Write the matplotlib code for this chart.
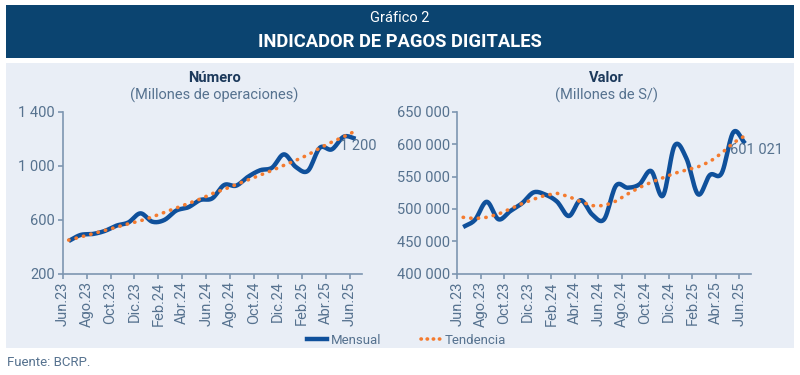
import matplotlib
matplotlib.use("Agg")
import matplotlib.pyplot as plt
import numpy as np
from matplotlib.patches import Rectangle
from matplotlib.lines import Line2D
from matplotlib.ticker import FuncFormatter

plt.rcParams["font.family"] = ["Roboto", "DejaVu Sans"]

# Monthly data, Jun.23 - Jun.25
month_labels = ["Jun.23", "Ago.23", "Oct.23", "Dic.23", "Feb.24", "Abr.24", "Jun.24",
                "Ago.24", "Oct.24", "Dic.24", "Feb.25", "Abr.25", "Jun.25"]

numero_mensual = [442, 487, 494, 516, 556, 580, 647, 585, 598, 668, 692, 746, 758,
                  857, 852, 918, 966, 985, 1084, 990, 962, 1133, 1121, 1215, 1200]
numero_tendencia = [449, 472, 496, 520, 545, 570, 592, 621, 654, 687, 720, 753, 793,
                    825, 860, 895, 930, 965, 1003, 1040, 1080, 1131, 1175, 1215, 1258]

valor_mensual = [472000, 483000, 511000, 484000, 496500, 508500, 525500, 522000, 511000,
                 489000, 513500, 491000, 484000, 535700, 532700, 537900, 558500, 520200,
                 597700, 578000, 522400, 552300, 555000, 618400, 601021]
valor_tendencia = [487000, 485000, 487000, 492000, 500000, 508000, 515000, 521000, 524000,
                   519000, 511000, 505000, 505000, 512000, 523000, 533000, 541000, 548000,
                   555000, 560000, 565000, 573000, 586000, 602000, 613000]

navy = "#0b4470"
panel_bg = "#e9eef6"
blue = "#0f509b"
orange = "#f47b2f"
axis_col = "#7d96b1"
text_col = "#56728f"
title_col = "#1d3a5c"


def smooth(x, y, n=12):
    # Catmull-Rom curve through the points, like the spreadsheet smoothed line
    x = np.asarray(x, float)
    y = np.asarray(y, float)
    px = np.concatenate([[2 * x[0] - x[1]], x, [2 * x[-1] - x[-2]]])
    py = np.concatenate([[2 * y[0] - y[1]], y, [2 * y[-1] - y[-2]]])
    xs, ys = [], []
    t = np.linspace(0, 1, n, endpoint=False)
    for i in range(1, len(px) - 2):
        for arr, out in ((px, xs), (py, ys)):
            p0, p1, p2, p3 = arr[i - 1], arr[i], arr[i + 1], arr[i + 2]
            out.extend(0.5 * ((2 * p1) + (-p0 + p2) * t
                              + (2 * p0 - 5 * p1 + 4 * p2 - p3) * t ** 2
                              + (-p0 + 3 * p1 - 3 * p2 + p3) * t ** 3))
    xs.append(x[-1])
    ys.append(y[-1])
    return np.array(xs), np.array(ys)


def thousands(v, pos):
    return f"{int(v):,}".replace(",", " ")


fig = plt.figure(figsize=(8, 3.75), dpi=100)


def fx(x):
    return x / 800


def fy(y):
    return 1 - y / 375


# Header band and panel
fig.patches.append(Rectangle((fx(6), fy(58)), fx(788), 53 / 375, transform=fig.transFigure,
                             facecolor=navy, edgecolor="none", zorder=-2))
fig.patches.append(Rectangle((fx(6), fy(348)), fx(788), 285 / 375, transform=fig.transFigure,
                             facecolor=panel_bg, edgecolor="none", zorder=-2))
fig.text(0.5, fy(18), "Gráfico 2", color="white", fontsize=10.5, ha="center", va="center")
fig.text(0.5, fy(42), "INDICADOR DE PAGOS DIGITALES", color="white", fontsize=13.2,
         fontweight="bold", ha="center", va="center")
fig.text(fx(7), fy(363), "Fuente: BCRP.", color=text_col, fontsize=9.5, ha="left", va="center")

x = np.arange(len(numero_mensual)) + 0.5

panels = [
    (fx(62.7), fx(361.7), numero_mensual, numero_tendencia, (200, 1400), [200, 600, 1000, 1400],
     "Número", "(Millones de operaciones)", "1 200"),
    (fx(457.3), fx(751), valor_mensual, valor_tendencia, (400000, 650000),
     [400000, 450000, 500000, 550000, 600000, 650000],
     "Valor", "(Millones de S/)", "601 021"),
]

for x0, x1, mensual, tendencia, ylim, yticks, title, subtitle, last_label in panels:
    ax = fig.add_axes([x0, fy(273.7), x1 - x0, (273.7 - 111.7) / 375])
    ax.set_facecolor("none")
    sx, sy = smooth(x, mensual)
    ax.plot(sx, sy, color=blue, lw=3.2, solid_capstyle="butt", zorder=3)
    ax.plot(x, tendencia, color=orange, lw=2.6, linestyle=(0, (0.1, 2.0)),
            dash_capstyle="round", zorder=4)
    ax.set_xlim(0, 25)
    ax.set_ylim(*ylim)
    ax.set_yticks(yticks)
    ax.yaxis.set_major_formatter(FuncFormatter(thousands))
    ax.set_xticks(np.arange(0, 25, 2))
    ax.set_xticklabels(month_labels, rotation=90)
    for s in ["top", "right"]:
        ax.spines[s].set_visible(False)
    for s in ["left", "bottom"]:
        ax.spines[s].set_color(axis_col)
        ax.spines[s].set_linewidth(1.2)
    ax.tick_params(axis="both", colors=axis_col, labelcolor=text_col, labelsize=10.5,
                   length=3.5, width=1.2, pad=2)
    ax.text(x[-1] - 1.3, mensual[-1], last_label, color=text_col, fontsize=10.5,
            ha="left", va="top")
    cx = (x0 + x1) / 2
    fig.text(cx + 0.003, fy(78), title, color=title_col, fontsize=10.5, fontweight="bold",
             ha="center", va="center")
    fig.text(cx + 0.003, fy(95), subtitle, color=text_col, fontsize=10.5, ha="center", va="center")

handles = [Line2D([], [], color=blue, lw=3.2),
           Line2D([], [], color=orange, lw=2.6, linestyle=(0, (0.1, 1.6)), dash_capstyle="round")]
fig.legend(handles, ["Mensual", "Tendencia"], loc="center", bbox_to_anchor=(0.508, fy(340)),
           ncol=2, frameon=False, fontsize=9.5, labelcolor=text_col, handlelength=1.5,
           handletextpad=0.3, columnspacing=3.0)

fig.savefig("out.png", dpi=100)
